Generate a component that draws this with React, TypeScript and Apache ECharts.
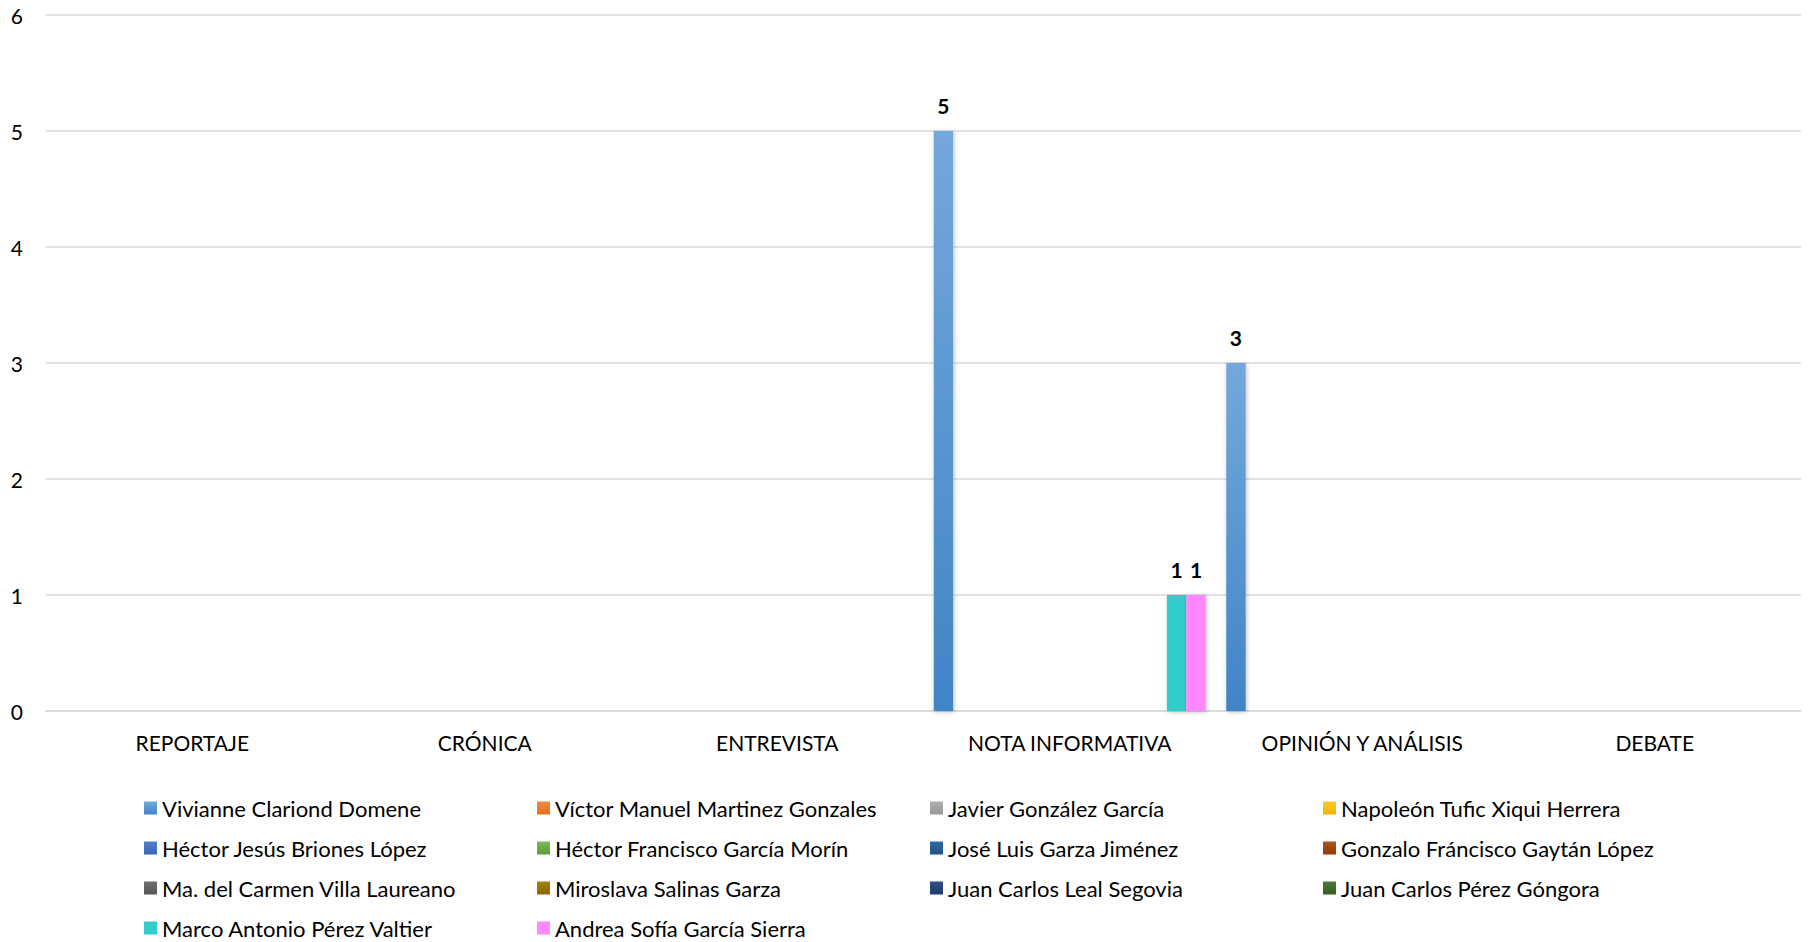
import React, { useEffect, useRef } from "react";
import * as echarts from "echarts";

const categories = ["REPORTAJE", "CRÓNICA", "ENTREVISTA", "NOTA INFORMATIVA", "OPINIÓN Y ANÁLISIS", "DEBATE"];

const seriesNames = [
  "Vivianne Clariond Domene",
  "Víctor Manuel Martinez Gonzales",
  "Javier González García",
  "Napoleón Tufic Xiqui Herrera",
  "Héctor Jesús Briones López",
  "Héctor Francisco García Morín",
  "José Luis Garza Jiménez",
  "Gonzalo Fráncisco Gaytán López",
  "Ma. del Carmen Villa Laureano",
  "Miroslava Salinas Garza",
  "Juan Carlos Leal Segovia",
  "Juan Carlos Pérez Góngora",
  "Marco Antonio Pérez Valtier",
  "Andrea Sofía García Sierra",
];

const vivianne = [0, 0, 0, 5, 3, 0];
const victor = [0, 0, 0, 0, 0, 0];
const javier = [0, 0, 0, 0, 0, 0];
const napoleon = [0, 0, 0, 0, 0, 0];
const hectorJesus = [0, 0, 0, 0, 0, 0];
const hectorFrancisco = [0, 0, 0, 0, 0, 0];
const joseLuis = [0, 0, 0, 0, 0, 0];
const gonzalo = [0, 0, 0, 0, 0, 0];
const maCarmen = [0, 0, 0, 0, 0, 0];
const miroslava = [0, 0, 0, 0, 0, 0];
const juanLeal = [0, 0, 0, 0, 0, 0];
const juanPerez = [0, 0, 0, 0, 0, 0];
const marco = [0, 0, 0, 1, 0, 0];
const andrea = [0, 0, 0, 1, 0, 0];

const seriesValues = [
  vivianne, victor, javier, napoleon, hectorJesus, hectorFrancisco, joseLuis,
  gonzalo, maCarmen, miroslava, juanLeal, juanPerez, marco, andrea,
];

const yTicks = [0, 1, 2, 3, 4, 5, 6];

const colorStops: [string, string][] = [
  ["#74a8dc", "#4184c6"],
  ["#f08a46", "#e0701f"],
  ["#b0b0b0", "#979797"],
  ["#ffc82a", "#f0b400"],
  ["#5680cc", "#3a65b5"],
  ["#7cb857", "#5f9c3a"],
  ["#2f6aa0", "#1f5282"],
  ["#aa5520", "#8e3e08"],
  ["#707070", "#555555"],
  ["#a67f10", "#8a6600"],
  ["#2f5088", "#1f3b6a"],
  ["#4d7834", "#3a5b24"],
  ["#33cccc", "#33cccc"],
  ["#ff88ff", "#ff88ff"],
];

const FONT = "Lato, 'Open Sans', sans-serif";

export default function App() {
  const ref = useRef<HTMLDivElement>(null);
  useEffect(() => {
    if (!ref.current) return;
    const chart = echarts.init(ref.current, undefined, { renderer: "svg" });
    const series = seriesNames.map((name, i) => ({
      name,
      type: "bar",
      data: seriesValues[i],
      barGap: "0%",
      barCategoryGap: "7%",
      itemStyle: {
        color: new echarts.graphic.LinearGradient(0, 0, 0, 1, [
          { offset: 0, color: colorStops[i][0] },
          { offset: 1, color: colorStops[i][1] },
        ]),
        shadowBlur: 4,
        shadowColor: "rgba(0,0,0,0.25)",
        shadowOffsetX: 1,
        shadowOffsetY: 1,
      },
      label: {
        show: true,
        position: "top",
        distance: 15,
        formatter: (p: any) => (p.value ? String(p.value) : ""),
        fontFamily: FONT,
        fontSize: 21,
        fontWeight: "bold",
        color: "#000",
      },
    }));
    chart.setOption({
      animation: false,
      backgroundColor: "#ffffff",
      grid: { left: 46, right: 13, top: 15, bottom: 231, containLabel: false },
      xAxis: {
        type: "category",
        data: categories,
        axisTick: { show: false },
        axisLine: { show: true, lineStyle: { color: "#d9d9d9", width: 1.5 } },
        axisLabel: { color: "#000", fontFamily: FONT, fontSize: 21, margin: 21 },
      },
      yAxis: {
        type: "value",
        min: yTicks[0],
        max: yTicks[yTicks.length - 1],
        interval: 1,
        axisLine: { show: false },
        axisTick: { show: false },
        splitLine: { lineStyle: { color: "#d9d9d9", width: 1.5 } },
        axisLabel: { color: "#000", fontFamily: FONT, fontSize: 21, margin: 23 },
      },
      legend: {
        data: seriesNames,
        left: 139,
        top: 791,
        width: 1600,
        itemGap: 16,
        itemWidth: 13,
        itemHeight: 13,
        icon: "rect",
        textStyle: {
          fontFamily: FONT,
          fontSize: 22,
          color: "#000",
          width: 359,
          lineHeight: 24,
          overflow: "truncate",
        },
      },
      series,
    });
    return () => chart.dispose();
  }, []);
  return (
    <div
      ref={ref}
      style={{ position: "fixed", left: 0, top: 0, width: 1814, height: 942 }}
    />
  );
}
